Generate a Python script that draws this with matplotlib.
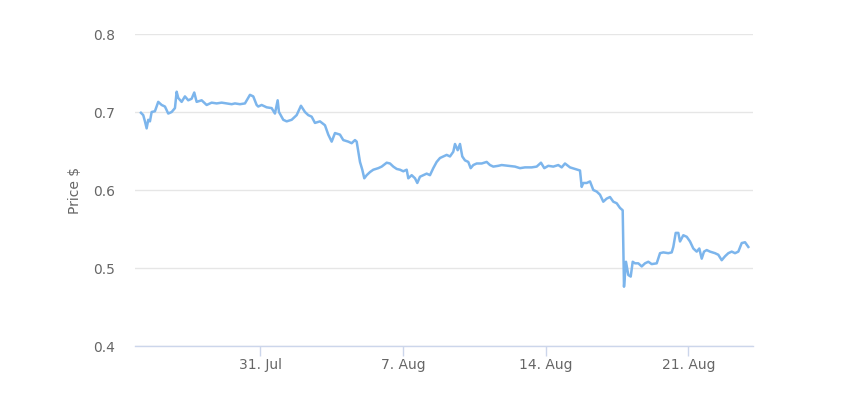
import matplotlib
matplotlib.use("Agg")
import matplotlib.pyplot as plt
import matplotlib.dates as mdates
from matplotlib.ticker import FuncFormatter, FixedLocator
import pandas as pd

# days since 2023-07-25 00:00
days = [0.141, 0.254, 0.338, 0.421, 0.500, 0.583, 0.667, 0.828, 0.990, 1.157,
        1.319, 1.481, 1.648, 1.810, 1.893, 1.972, 2.138, 2.300, 2.462, 2.629,
        2.757, 2.874, 3.120, 3.365, 3.610, 3.856, 4.101, 4.346, 4.592, 4.754,
        4.999, 5.244, 5.490, 5.652, 5.818, 5.897, 6.064, 6.309, 6.554, 6.716,
        6.849, 6.913, 7.124, 7.291, 7.536, 7.781, 7.992, 8.188, 8.351, 8.517,
        8.679, 8.925, 9.170, 9.332, 9.499, 9.661, 9.906, 10.068, 10.314, 10.480,
        10.642, 10.726, 10.888, 11.001, 11.099, 11.217, 11.379, 11.541, 11.786, 11.952,
        12.198, 12.360, 12.522, 12.689, 12.850, 13.012, 13.179, 13.258, 13.425, 13.587,
        13.700, 13.831, 13.993, 14.160, 14.322, 14.484, 14.650, 14.812, 14.975, 15.141,
        15.303, 15.465, 15.549, 15.681, 15.794, 15.907, 16.039, 16.201, 16.319, 16.447,
        16.614, 16.859, 17.104, 17.266, 17.428, 17.673, 17.840, 18.164, 18.493, 18.738,
        18.983, 19.312, 19.557, 19.768, 19.930, 20.127, 20.372, 20.617, 20.784, 20.946,
        21.191, 21.436, 21.682, 21.765, 21.844, 22.011, 22.173, 22.335, 22.502, 22.663,
        22.825, 22.992, 23.154, 23.316, 23.483, 23.645, 23.777, 23.841, 23.939, 24.052,
        24.170, 24.268, 24.381, 24.543, 24.710, 24.872, 25.034, 25.200, 25.446, 25.608,
        25.770, 26.015, 26.182, 26.260, 26.378, 26.506, 26.589, 26.751, 26.918, 27.080,
        27.242, 27.409, 27.536, 27.654, 27.767, 27.899, 28.061, 28.306, 28.468, 28.635,
        28.797, 28.959, 29.126, 29.288, 29.450, 29.617, 29.779, 29.941]

price = [0.699, 0.696, 0.688, 0.679, 0.690, 0.688, 0.700, 0.701, 0.713, 0.709,
         0.707, 0.698, 0.700, 0.705, 0.726, 0.718, 0.713, 0.720, 0.715, 0.717,
         0.725, 0.713, 0.715, 0.709, 0.712, 0.711, 0.712, 0.711, 0.710, 0.711,
         0.710, 0.711, 0.722, 0.720, 0.709, 0.707, 0.709, 0.706, 0.705, 0.698,
         0.715, 0.700, 0.690, 0.688, 0.690, 0.696, 0.708, 0.700, 0.696, 0.694,
         0.686, 0.688, 0.683, 0.671, 0.662, 0.673, 0.671, 0.664, 0.662, 0.660,
         0.664, 0.662, 0.636, 0.626, 0.615, 0.619, 0.623, 0.626, 0.628, 0.630,
         0.635, 0.634, 0.630, 0.627, 0.626, 0.624, 0.626, 0.615, 0.619, 0.615,
         0.609, 0.617, 0.619, 0.621, 0.619, 0.628, 0.636, 0.641, 0.643, 0.645,
         0.643, 0.649, 0.659, 0.651, 0.659, 0.643, 0.638, 0.636, 0.628, 0.632,
         0.634, 0.634, 0.636, 0.632, 0.630, 0.631, 0.632, 0.631, 0.630, 0.628,
         0.629, 0.629, 0.630, 0.635, 0.628, 0.631, 0.630, 0.632, 0.629, 0.634,
         0.629, 0.627, 0.625, 0.604, 0.609, 0.609, 0.611, 0.600, 0.598, 0.594,
         0.585, 0.589, 0.591, 0.585, 0.583, 0.577, 0.574, 0.476, 0.508, 0.491,
         0.489, 0.508, 0.506, 0.506, 0.502, 0.506, 0.508, 0.505, 0.506, 0.519,
         0.520, 0.519, 0.520, 0.527, 0.545, 0.545, 0.534, 0.542, 0.540, 0.534,
         0.525, 0.521, 0.525, 0.512, 0.521, 0.523, 0.521, 0.519, 0.517, 0.510,
         0.515, 0.519, 0.521, 0.519, 0.521, 0.532, 0.533, 0.527]

start_date = "2023-07-25"
tick_dates = ["2023-07-31", "2023-08-07", "2023-08-14", "2023-08-21"]
y_ticks = [0.4, 0.5, 0.6, 0.7, 0.8]
y_label = "Price $"

t0 = pd.Timestamp(start_date)
times = [t0 + pd.Timedelta(days=d) for d in days]

fig = plt.figure(figsize=(8.5, 4.03), dpi=100)
ax = fig.add_axes([135/850, 57/403, 618/850, 312/403])

ax.plot(times, price, color="#7cb5ec", linewidth=1.8, solid_joinstyle="round")

ax.set_ylim(0.4, 0.8)
ax.set_yticks(y_ticks)
ax.set_xlim(t0 + pd.Timedelta(days=-0.15), t0 + pd.Timedelta(days=30.17))
ax.xaxis.set_major_locator(FixedLocator([mdates.date2num(pd.Timestamp(d)) for d in tick_dates]))

def fmt_date(x, pos):
    d = mdates.num2date(x)
    return f"{d.day}. {d.strftime('%b')}"

ax.xaxis.set_major_formatter(FuncFormatter(fmt_date))

ax.grid(axis="y", color="#e6e6e6", linewidth=1.0)
ax.set_axisbelow(True)
for s in ["top", "right", "left"]:
    ax.spines[s].set_visible(False)
ax.spines["bottom"].set_color("#ccd6eb")
ax.spines["bottom"].set_linewidth(1.0)

ax.tick_params(axis="y", length=0, pad=14.4, labelsize=10, labelcolor="#666666")
ax.tick_params(axis="x", length=7.5, width=1, color="#ccd6eb", pad=1.5,
               labelsize=10, labelcolor="#666666")
ax.set_ylabel(y_label, fontsize=10, color="#666666", labelpad=8)

fig.savefig("out.png", dpi=100, facecolor="white")
